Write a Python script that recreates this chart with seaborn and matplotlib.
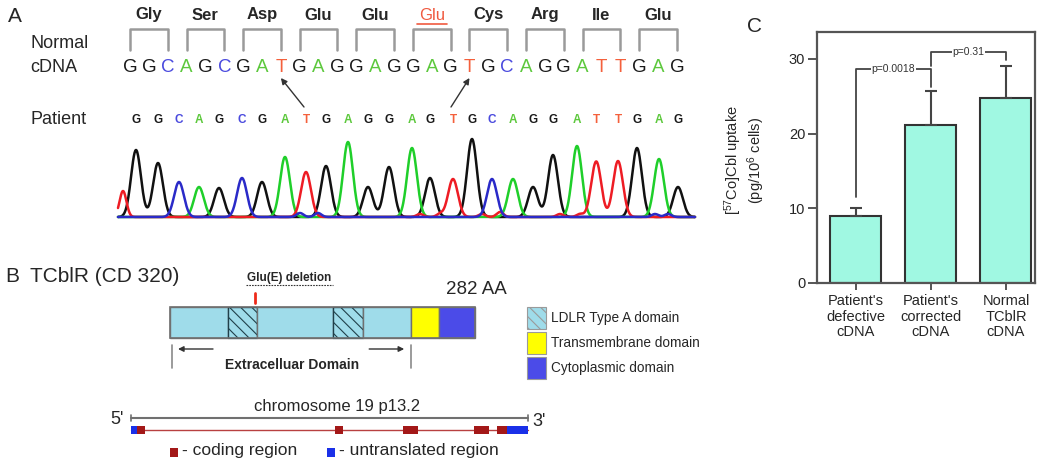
import numpy as np
import pandas as pd
import seaborn as sns
import matplotlib.pyplot as plt
from matplotlib.patches import Rectangle

# ---- panel A: sequence + chromatogram ----
codons = ["Gly", "Ser", "Asp", "Glu", "Glu", "Glu", "Cys", "Arg", "Ile", "Glu"]
deleted_codon = 5
normal_seq = "GGCAGCGATGAGGAGGAGTGCAGGATTGAG"
patient_seq = "GGCAGCGATGAGGAGTGCAGGATTGAG"
# one peak per called patient base (scan position, height)
peak_pos = [136, 158, 179, 199, 219, 242, 262, 285, 306, 326,
            348, 368, 389, 412, 430, 453, 472, 492, 513, 533,
            553, 577, 596, 618, 637, 659, 678]
peak_height = [67, 54, 35, 30, 29, 39, 35, 60, 45, 51,
               75, 30, 50, 69, 39, 38, 78, 38, 38, 30,
               62, 71, 54, 56, 69, 58, 30]
# small off-call signal near the baseline
noise_pos = [123, 300, 318, 420, 440, 482, 500, 560, 580, 600, 655, 668]
noise_base = ["T", "C", "C", "T", "T", "T", "T", "T", "T", "T", "C", "C"]
noise_height = [26, 4, 4, 3, 3, 3, 5, 3, 3, 3, 3, 3]
# patient base index -> normal base index
arrow_from = [8, 15]
arrow_to = [8, 18]

# ---- panel B: TCblR protein and gene ----
protein_len = 282
domain_bounds = [0, 54, 80, 151, 178, 223, 249, 282]
domain_kind = ["extra", "ldlr", "extra", "ldlr", "extra", "tm", "cyto"]
deletion_aa = 79
extracellular = (0, 223)
legend_kinds = ["ldlr", "tm", "cyto"]
legend_names = ["LDLR Type A domain", "Transmembrane domain", "Cytoplasmic domain"]
# gene blocks in % of gene length
block_start = [0, 1.5, 51.4, 68.5, 86.4, 92.2, 94.7]
block_end = [1.5, 3.5, 53.4, 72.3, 90.2, 94.7, 100]
block_kind = ["utr", "cds", "cds", "cds", "cds", "cds", "utr"]

# ---- panel C: uptake ----
groups = ["Patient's\ndefective\ncDNA", "Patient's\ncorrected\ncDNA", "Normal\nTCblR\ncDNA"]
uptake = [9.0, 21.2, 24.7]
uptake_err = [1.0, 4.5, 4.3]
p_labels = ["p=0.0018", "p=0.31"]
p_pairs = [(0, 1), (1, 2)]
p_height = [28.7, 30.9]
p_leg_left = [11.5, 29.1]
p_leg_right = [26.2, 29.8]

sns.set_theme(style="ticks")
plt.rcParams["font.family"] = ["Liberation Sans", "DejaVu Sans"]
plt.rcParams["mathtext.default"] = "regular"
plt.rcParams["hatch.linewidth"] = 0.8

trace_colors = {"G": "#111111", "A": "#1fcf2a", "T": "#ee1c24", "C": "#2a2ac8"}
letter_colors = {"G": "#1a1a1a", "A": "#5cc83c", "T": "#f4603c", "C": "#4a4ade"}
domain_colors = {"extra": "#9fdcea", "ldlr": "#9fdcea", "tm": "#ffff00", "cyto": "#4b4be8"}
block_colors = {"utr": "#1a30e8", "cds": "#a31818"}

fig = plt.figure(figsize=(10.5, 4.68), dpi=100)
ax = fig.add_axes([0, 0, 1, 1])
ax.set_xlim(0, 1050)
ax.set_ylim(468, 0)
ax.axis("off")

# ---------------- panel A ----------------
x0, dx = 130, 18.86
nx = [x0 + i * dx for i in range(len(normal_seq))]
ax.text(8, 16, "A", fontsize=15, ha="left", va="center")
for k, aa in enumerate(codons):
    xl, xc, xr = nx[3 * k], nx[3 * k + 1], nx[3 * k + 2]
    ax.plot([xl, xl, xr, xr], [50, 29, 29, 50], color="#9a9a9a", lw=1.8)
    if k == deleted_codon:
        ax.text(xc, 15, aa, fontsize=12, color="#f05a40", ha="center", va="center")
        ax.plot([xc - 15, xc + 15], [24, 24], color="#f05a40", lw=1.2)
    else:
        ax.text(xc, 15, aa, fontsize=12, fontweight="bold", ha="center", va="center")
ax.text(30, 43, "Normal", fontsize=13, ha="left", va="center")
ax.text(30, 67, "cDNA", fontsize=13, ha="left", va="center")
for x, b in zip(nx, normal_seq):
    ax.text(x, 67, b, fontsize=13.5, color=letter_colors[b], ha="center", va="center")

ax.text(30, 120, "Patient", fontsize=13, ha="left", va="center")
for x, b in zip(peak_pos, patient_seq):
    ax.text(x, 120, b, fontsize=8.5, fontweight="bold", color=letter_colors[b],
            ha="center", va="center")
for i, j in zip(arrow_from, arrow_to):
    ax.annotate("", xy=(nx[j], 78), xytext=(peak_pos[i] - 2, 107),
                arrowprops=dict(arrowstyle="-|>", color="#333333", lw=1.0,
                                mutation_scale=9, shrinkA=0, shrinkB=0))

baseline = 217
xs = np.linspace(118, 695, 1500)
sigma = 4.9
for base, col in trace_colors.items():
    sig = np.zeros_like(xs)
    for p, b, h in zip(peak_pos, patient_seq, peak_height):
        if b == base:
            sig += h * np.exp(-(xs - p) ** 2 / (2 * sigma ** 2))
    for p, b, h in zip(noise_pos, noise_base, noise_height):
        if b == base:
            sig += h * np.exp(-(xs - p) ** 2 / (2 * (sigma * 0.7) ** 2))
    ax.plot(xs, baseline - sig, color=col, lw=1.8, solid_capstyle="round")

# ---------------- panel B ----------------
px0, px1 = 170, 475
aa_px = lambda a: px0 + a * (px1 - px0) / protein_len
bar_top, bar_bot = 307, 338
ax.text(5, 276, "B", fontsize=15, ha="left", va="center")
ax.text(30, 276, "TCblR (CD 320)", fontsize=15, ha="left", va="center")
xd = aa_px(deletion_aa)
ax.text(289, 278, "Glu(E) deletion", fontsize=8.5, fontweight="bold", ha="center", va="center")
ax.plot([246, 333], [285, 285], color="#333333", lw=0.8, ls=(0, (1.5, 1)))
ax.plot([xd, xd], [293, 303], color="#ee2a1a", lw=2)
ax.text(476, 290, "282 AA", fontsize=13.5, ha="center", va="center")

for a0, a1, kind in zip(domain_bounds[:-1], domain_bounds[1:], domain_kind):
    xa, xb = aa_px(a0), aa_px(a1)
    if kind == "ldlr":
        ax.add_patch(Rectangle((xa, bar_top), xb - xa, bar_bot - bar_top,
                               facecolor=domain_colors[kind], edgecolor="#20404a",
                               hatch="\\\\\\", lw=1.0))
    else:
        ax.add_patch(Rectangle((xa, bar_top), xb - xa, bar_bot - bar_top,
                               facecolor=domain_colors[kind], edgecolor="#707070", lw=1.0))
ax.add_patch(Rectangle((px0, bar_top), px1 - px0, bar_bot - bar_top,
                       facecolor="none", edgecolor="#707070", lw=1.2))

for k, (kind, name) in enumerate(zip(legend_kinds, legend_names)):
    yc = 318 + 25 * k
    ax.add_patch(Rectangle((527, yc - 11), 19, 22, facecolor=domain_colors[kind],
                           edgecolor="#9a9a9a", lw=0.8,
                           hatch="\\\\\\" if kind == "ldlr" else None))
    ax.text(551, yc, name, fontsize=9.8, ha="left", va="center")

ex_l, ex_r = aa_px(extracellular[0]) + 2, aa_px(extracellular[1])
for xe in (ex_l, ex_r):
    ax.plot([xe, xe], [345, 368], color="#8a8a8a", lw=1.2)
ax.annotate("", xy=(ex_l + 6, 349), xytext=(ex_l + 41, 349),
            arrowprops=dict(arrowstyle="-|>", color="#333333", lw=1.0, mutation_scale=8,
                            shrinkA=0, shrinkB=0))
ax.annotate("", xy=(ex_r - 7, 349), xytext=(ex_r - 42, 349),
            arrowprops=dict(arrowstyle="-|>", color="#333333", lw=1.0, mutation_scale=8,
                            shrinkA=0, shrinkB=0))
ax.text((ex_l + ex_r) / 2, 365, "Extracelluar Domain", fontsize=10, fontweight="bold",
        ha="center", va="center")

gx0, gx1 = 131, 528
g_px = lambda f: gx0 + f * (gx1 - gx0) / 100
ax.text(337, 406, "chromosome 19 p13.2", fontsize=12, ha="center", va="center")
ax.plot([gx0, gx1], [418, 418], color="#707070", lw=1.5)
for xe in (gx0, gx1):
    ax.plot([xe, xe], [415, 421], color="#707070", lw=1.2)
ax.text(117, 420, "5'", fontsize=13, ha="center", va="center")
ax.text(539, 422, "3'", fontsize=13, ha="center", va="center")
ax.plot([gx0, gx1], [430, 430], color="#b84040", lw=1.0, zorder=2)
for s, e, kind in zip(block_start, block_end, block_kind):
    ax.add_patch(Rectangle((g_px(s), 426), g_px(e) - g_px(s), 8,
                           facecolor=block_colors[kind], edgecolor="none", zorder=3))
ax.add_patch(Rectangle((170, 448), 8, 9, facecolor=block_colors["cds"], edgecolor="none"))
ax.text(182, 451, "- coding region", fontsize=12.5, ha="left", va="center")
ax.add_patch(Rectangle((327, 448), 8, 9, facecolor=block_colors["utr"], edgecolor="none"))
ax.text(339, 451, "- untranslated region", fontsize=12.5, ha="left", va="center")

# ---------------- panel C ----------------
ax.text(755, 27, "C", fontsize=15, ha="center", va="center")
axc = fig.add_axes([817 / 1050, (468 - 283) / 468, 218 / 1050, 251 / 468])
df = pd.DataFrame({"group": groups, "uptake": uptake})
sns.barplot(data=df, x="group", y="uptake", color="#a0f8e2", saturation=1,
            width=0.68, edgecolor="#333333", linewidth=1.5, errorbar=None, ax=axc)
axc.errorbar(range(len(uptake)), uptake, yerr=[[0] * len(uptake), uptake_err],
             fmt="none", ecolor="#444444", elinewidth=1.5, capsize=4, capthick=1.5, zorder=3)
for (i, j), ph, lb, rb, lab in zip(p_pairs, p_height, p_leg_left, p_leg_right, p_labels):
    axc.plot([i, i, j, j], [lb, ph, ph, rb], color="#444444", lw=1.3)
    axc.text((i + j) / 2, ph, lab, fontsize=7.5, color="#333333", ha="center", va="center",
             bbox=dict(facecolor="white", edgecolor="none", pad=0.6))
axc.set_xlim(-0.52, 2.387)
axc.set_ylim(0, 33.6)
axc.set_yticks([0, 10, 20, 30])
axc.set_xlabel("")
axc.set_ylabel("[$^{57}$Co]Cbl uptake\n(pg/10$^{6}$ cells)", fontsize=10.5, linespacing=1.1)
axc.yaxis.set_label_coords(-0.23, 0.49)
axc.set_xticks(range(len(groups)))
axc.set_xticklabels(groups, fontsize=10.5, linespacing=1.15)
axc.tick_params(axis="y", labelsize=10.5, length=6.5, width=1.4, color="#555555", pad=2)
axc.tick_params(axis="x", length=5, width=1.4, color="#555555", pad=3)
for sp in axc.spines.values():
    sp.set_visible(True)
    sp.set_color("#555555")
    sp.set_linewidth(1.6)

fig.savefig("out.png", dpi=100)
